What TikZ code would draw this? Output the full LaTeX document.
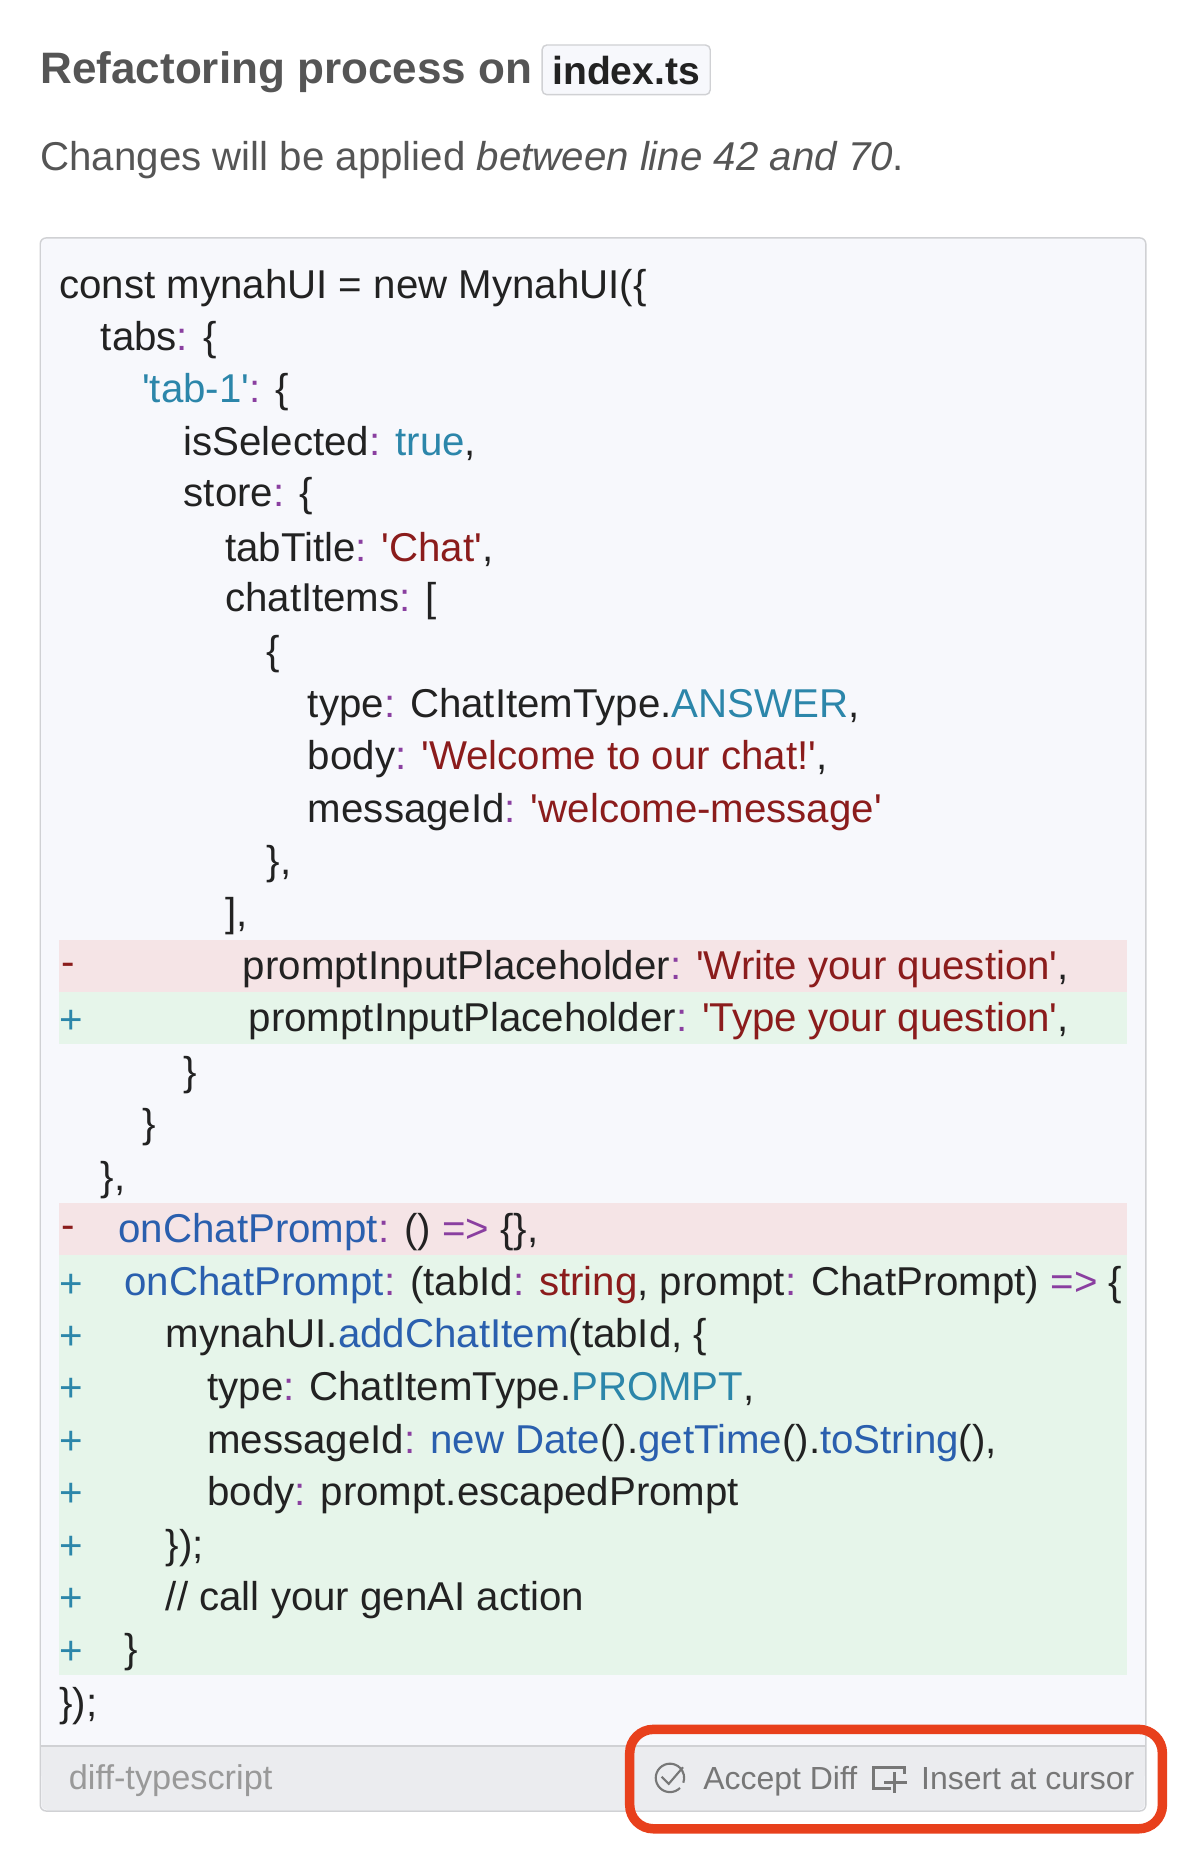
\documentclass[tikz,border=0pt]{standalone}
\usepackage{fontspec}
\setmainfont{Liberation Sans}
\newfontfamily\codefont{Liberation Sans}
\usetikzlibrary{positioning}
\definecolor{boxbg}{HTML}{F7F8FC}
\definecolor{boxline}{HTML}{D0D1D4}
\definecolor{footbg}{HTML}{EBECEF}
\definecolor{txtgray}{HTML}{555555}
\definecolor{footgray}{HTML}{777777}
\definecolor{codeblack}{HTML}{222222}
\definecolor{cpurple}{HTML}{8A3FA0}
\definecolor{cstring}{HTML}{8B1C1C}
\definecolor{cvalue}{HTML}{2C86AA}
\definecolor{cfunc}{HTML}{2A5FAE}
\definecolor{delbg}{HTML}{F5E4E6}
\definecolor{addbg}{HTML}{E6F5EA}
\definecolor{hlred}{HTML}{E8401C}
\newcommand{\cP}[1]{\textcolor{cpurple}{#1}}
\newcommand{\cS}[1]{\textcolor{cstring}{#1}}
\newcommand{\cV}[1]{\textcolor{cvalue}{#1}}
\newcommand{\cF}[1]{\textcolor{cfunc}{#1}}
\tikzset{
  code/.style={anchor=west,inner sep=0pt,yshift=-3pt,font=\codefont\fontsize{34}{34}\selectfont,text=codeblack},
  diffsign/.style={anchor=west,inner sep=0pt,yshift=-3pt,font=\codefont\fontsize{34}{34}\selectfont},
  foot/.style={anchor=base west,inner sep=0pt,font=\fontsize{27}{27}\selectfont,text=footgray},
}
\begin{document}
\begin{tikzpicture}[x=1pt,y=-1pt]
	\useasboundingbox (0,0) rectangle (1004,1568);
	\fill[white] (0,0) rectangle (1004,1568);

	% heading
	\node[anchor=west,inner sep=0pt,yshift=-3pt,font=\bfseries\fontsize{37.2}{37}\selectfont,text=txtgray] (title) at (34,58) {Refactoring process on};
	\draw[boxline,fill=boxbg,rounded corners=4pt,line width=1.2pt] (458,38) rectangle (600,80);
	\node[anchor=center,inner sep=0pt,yshift=-1pt,font=\bfseries\fontsize{33}{33}\selectfont,text=codeblack] (file) at (529,59) {index.ts};
	\node[anchor=west,inner sep=0pt,yshift=-3pt,font=\fontsize{34}{34}\selectfont,text=txtgray] (sub) at (34,132) {Changes will be applied \textit{between line 42 and 70}.};

	% code box
	\draw[boxline,fill=boxbg,rounded corners=5pt,line width=1.2pt] (34,201) rectangle (968,1530);
	\fill[footbg,rounded corners=5pt] (35,1476) rectangle (967,1529);
	\fill[footbg] (35,1476) rectangle (967,1500);
	\draw[boxline,line width=1.2pt] (34,1475) -- (968,1475);

	% diff bands
	\fill[delbg] (50,794) rectangle (952,838);
	\fill[addbg] (50,838) rectangle (952,882);
	\fill[delbg] (50,1016) rectangle (952,1060);
	\fill[addbg] (50,1060) rectangle (952,1415);

	% code lines
	\node[code] (l1) at (50,240) {const mynahUI = new MynahUI(\{};
	\node[code] (l2) at (85,284) {tabs\cP{:} \{};
	\node[code] (l3) at (120,328) {\cV{'tab-1'}\cP{:} \{};
	\node[code] (l4) at (155,372) {isSelected\cP{:} \cV{true},};
	\node[code] (l5) at (155,416) {store\cP{:} \{};
	\node[code] (l6) at (190,461) {tabTitle\cP{:} \cS{'Chat'},};
	\node[code] (l7) at (190,505) {chatItems\cP{:} [};
	\node[code] (l8) at (225,550) {\{};
	\node[code] (l9) at (260,594) {type\cP{:} ChatItemType.\cV{ANSWER},};
	\node[code] (l10) at (260,638) {body\cP{:} \cS{'Welcome to our chat!'},};
	\node[code] (l11) at (260,683) {messageId\cP{:} \cS{'welcome-message'}};
	\node[code] (l12) at (225,727) {\},};
	\node[code] (l13) at (190,771) {],};
	\node[diffsign,text=cstring] (m14) at (52,816) {-};
	\node[code] (l14) at (205,816) {promptInputPlaceholder\cP{:} \cS{'Write your question'},};
	\node[diffsign,text=cvalue] (m15) at (50,860) {+};
	\node[code] (l15) at (210,860) {promptInputPlaceholder\cP{:} \cS{'Type your question'},};
	\node[code] (l16) at (155,905) {\}};
	\node[code] (l17) at (120,949) {\}};
	\node[code] (l18) at (85,994) {\},};
	\node[diffsign,text=cstring] (m19) at (52,1038) {-};
	\node[code] (l19) at (100,1038) {\cF{onChatPrompt}\cP{:} () \cP{=>} \{\},};
	\node[diffsign,text=cvalue] (m20) at (50,1083) {+};
	\node[code] (l20) at (105,1083) {\cF{onChatPrompt}\cP{:} (tabId\cP{:} \cS{string}, prompt\cP{:} ChatPrompt) \cP{=>} \{};
	\node[diffsign,text=cvalue] (m21) at (50,1127) {+};
	\node[code] (l21) at (140,1127) {mynahUI.\cF{addChatItem}(tabId, \{};
	\node[diffsign,text=cvalue] (m22) at (50,1171) {+};
	\node[code] (l22) at (175,1171) {type\cP{:} ChatItemType.\cV{PROMPT},};
	\node[diffsign,text=cvalue] (m23) at (50,1216) {+};
	\node[code] (l23) at (175,1216) {messageId\cP{:} \cF{new Date}().\cF{getTime}().\cF{toString}(),};
	\node[diffsign,text=cvalue] (m24) at (50,1260) {+};
	\node[code] (l24) at (175,1260) {body\cP{:} prompt.escapedPrompt};
	\node[diffsign,text=cvalue] (m25) at (50,1305) {+};
	\node[code] (l25) at (140,1305) {\});};
	\node[diffsign,text=cvalue] (m26) at (50,1349) {+};
	\node[code] (l26) at (140,1349) {// call your genAI action};
	\node[diffsign,text=cvalue] (m27) at (50,1393) {+};
	\node[code] (l27) at (105,1393) {\}};
	\node[code] (l28) at (50,1438) {\});};

	% footer
	\node[foot,text=footgray!75,font=\fontsize{29}{29}\selectfont] (lang) at (58,1512) {diff-typescript};
	\draw[footgray,line width=1.8pt] (566,1502) ++(45:12) arc (45:380:12);
	\draw[footgray,line width=1.8pt] (559,1501) -- (565,1507) -- (577,1493);
	\node[foot] (accept) at (594,1512) {Accept Diff};
	\draw[footgray,line width=2.6pt] (753,1511) -- (738,1511) -- (738,1493) -- (764,1493) -- (764,1499);
	\draw[footgray,line width=2.6pt] (747,1506) -- (766,1506) (756,1497) -- (756,1515);
	\node[foot] (insert) at (778,1512) {Insert at cursor};

	% highlight
	\draw[hlred,line width=8pt,rounded corners=20pt] (532,1461) rectangle (982,1545);
\end{tikzpicture}
\end{document}
